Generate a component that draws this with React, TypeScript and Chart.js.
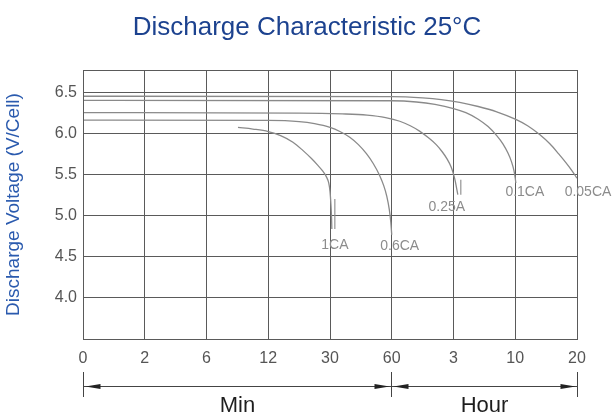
import React, { useEffect, useRef } from "react";
import { Chart, registerables } from "chart.js";

Chart.register(...registerables);

// ---------- data ----------
// x axis: equally spaced divisions labelled with discharge time
const xTickLabels = ["0", "2", "6", "12", "30", "60", "3", "10", "20"];
const yTickValues = [3.5, 4.0, 4.5, 5.0, 5.5, 6.0, 6.5];
const yMin = 3.5;
const yMax = 6.78;

const seriesNames = ["1CA", "0.6CA", "0.25A", "0.1CA", "0.05CA"];

// positions along the time axis (in axis divisions) and voltages (V/Cell)
const pos1CA = [2.51, 2.75, 3.0, 3.2, 3.4, 3.56, 3.7, 3.8, 3.88, 3.94, 3.98, 4.0, 4.015, 4.025, 4.03];
const volt1CA = [6.08, 6.06, 6.03, 5.98, 5.9, 5.8, 5.7, 5.62, 5.55, 5.48, 5.4, 5.3, 5.14, 4.98, 4.84];

const pos06CA = [0, 3.0, 3.5, 3.75, 4.0, 4.16, 4.32, 4.46, 4.59, 4.7, 4.8, 4.87, 4.92, 4.96, 4.985, 5.0];
const volt06CA = [6.17, 6.165, 6.15, 6.125, 6.08, 6.03, 5.96, 5.87, 5.76, 5.64, 5.5, 5.37, 5.24, 5.08, 4.92, 4.77];

const pos025A = [0, 3.5, 4.2, 4.6, 4.9, 5.13, 5.3, 5.45, 5.6, 5.72, 5.82, 5.9, 5.96, 6.0, 6.03, 6.05, 6.07];
const volt025A = [6.26, 6.255, 6.245, 6.23, 6.2, 6.155, 6.1, 6.035, 5.95, 5.87, 5.78, 5.69, 5.6, 5.51, 5.42, 5.34, 5.26];

const pos01CA = [0, 5.0, 5.4, 5.7, 6.0, 6.2, 6.4, 6.56, 6.7, 6.8, 6.88, 6.94, 6.98, 7.0, 7.01];
const volt01CA = [6.41, 6.405, 6.39, 6.36, 6.31, 6.26, 6.18, 6.09, 5.98, 5.88, 5.77, 5.66, 5.55, 5.46, 5.4];

const pos005CA = [0, 5.0, 5.5, 5.8, 6.1, 6.4, 6.7, 7.0, 7.2, 7.4, 7.56, 7.7, 7.82, 7.92, 8.0];
const volt005CA = [6.46, 6.455, 6.44, 6.42, 6.385, 6.335, 6.27, 6.18, 6.1, 5.99, 5.88, 5.76, 5.65, 5.55, 5.46];

const seriesPos = [pos1CA, pos06CA, pos025A, pos01CA, pos005CA];
const seriesVolt = [volt1CA, volt06CA, volt025A, volt01CA, volt005CA];

// time spans under the axis
const spanLabels = ["Min", "Hour"];
const spanStart = [0, 5];
const spanEnd = [5, 8];

// ---------- styles ----------
const FONT = "'Liberation Sans', Arial, sans-serif";
const curveColor = "#8a8a8a";
const gridColor = "#5a5a5a";
const labelOffsets: [number, number][] = [
  [3, 16],
  [8, 11],
  [-11, 12],
  [9, 9],
  [11, 14],
];
const leaderLengths = [30, 0, 15, 0, 0];

const overlayPlugin = {
  id: "overlay",
  afterDraw(chart: any) {
    const { ctx, chartArea: a, scales } = chart;
    const xs = scales.x;
    const ys = scales.y;
    const al = (p: number) => Math.round(p - 0.5) + 0.5;
    ctx.save();

    // plot frame
    ctx.strokeStyle = gridColor;
    ctx.lineWidth = 1;
    const L = al(a.left);
    const R = al(a.right);
    const T = al(a.top);
    const B = al(a.bottom);
    ctx.strokeRect(L, T, R - L, B - T);

    // curve labels + leaders
    ctx.font = `14px ${FONT}`;
    ctx.fillStyle = "#8c8c8c";
    ctx.textAlign = "center";
    ctx.textBaseline = "middle";
    seriesNames.forEach((name, i) => {
      const p = seriesPos[i];
      const v = seriesVolt[i];
      const ex = xs.getPixelForValue(p[p.length - 1]);
      const ey = ys.getPixelForValue(v[v.length - 1]);
      const len = leaderLengths[i];
      if (len > 0) {
        ctx.strokeStyle = curveColor;
        ctx.lineWidth = 1.1;
        ctx.beginPath();
        ctx.moveTo(ex + 3, ey - len);
        ctx.lineTo(ex + 3, ey);
        ctx.stroke();
      }
      const [dx, dy] = labelOffsets[i];
      ctx.fillText(name, ex + dx, ey + dy);
    });

    // Min / Hour arrows
    const yArrow = 386.5;
    const barTop = 372;
    const barBot = 397;
    ctx.strokeStyle = "#444";
    ctx.fillStyle = "#222";
    ctx.lineWidth = 1;
    const head = (tip: number, dir: number) => {
      ctx.beginPath();
      ctx.moveTo(tip, yArrow);
      ctx.lineTo(tip - dir * 15, yArrow - 2.5);
      ctx.lineTo(tip - dir * 15, yArrow + 2.5);
      ctx.closePath();
      ctx.fill();
    };
    spanLabels.forEach((lab, i) => {
      const x0 = al(xs.getPixelForValue(spanStart[i]));
      const x1 = al(xs.getPixelForValue(spanEnd[i]));
      ctx.beginPath();
      ctx.moveTo(x0, barTop);
      ctx.lineTo(x0, barBot);
      ctx.moveTo(x1, barTop);
      ctx.lineTo(x1, barBot);
      ctx.moveTo(x0, yArrow);
      ctx.lineTo(x1, yArrow);
      ctx.stroke();
      head(x0 + 2, -1);
      head(x1 - 2, 1);
      ctx.font = `22px ${FONT}`;
      ctx.fillStyle = "#1e1e1e";
      ctx.textAlign = "center";
      ctx.textBaseline = "alphabetic";
      ctx.fillText(lab, (x0 + x1) / 2, 412);
      ctx.fillStyle = "#222";
    });

    ctx.restore();
  },
};

export default function App() {
  const ref = useRef<HTMLCanvasElement>(null);

  useEffect(() => {
    if (!ref.current) return;
    Chart.defaults.font.family = FONT;
    const datasets = seriesNames.map((name, i) => ({
      label: name,
      data: seriesPos[i].map((p, j) => ({ x: p, y: seriesVolt[i][j] })),
      borderColor: curveColor,
      borderWidth: 1.3,
      pointRadius: 0,
      fill: false,
      cubicInterpolationMode: "monotone" as const,
    }));

    const chart = new Chart(ref.current, {
      type: "line",
      data: { datasets },
      options: {
        animation: false,
        responsive: true,
        maintainAspectRatio: false,
        layout: { padding: 0 },
        plugins: {
          legend: { display: false },
          tooltip: { enabled: false },
          title: {
            display: true,
            text: "Discharge Characteristic 25°C",
            color: "#1c428f",
            font: { family: FONT, size: 26, weight: "normal" },
            padding: { top: 12, bottom: 26.8 },
          },
        },
        scales: {
          x: {
            type: "linear",
            min: 0,
            max: xTickLabels.length - 1,
            afterFit: (s: any) => {
              s.height = 75;
            },
            ticks: {
              stepSize: 1,
              autoSkip: false,
              maxRotation: 0,
              padding: 10,
              color: "#555",
              font: { family: FONT, size: 16 },
              callback: (v: any) => xTickLabels[Math.round(Number(v))] ?? "",
            },
            grid: { color: gridColor, lineWidth: 1, drawTicks: false },
            border: { display: false },
          },
          y: {
            type: "linear",
            position: "left",
            min: yMin,
            max: yMax,
            afterBuildTicks: (s: any) => {
              s.ticks = yTickValues.map((v) => ({ value: v }));
            },
            afterFit: (s: any) => {
              s.width = 83;
            },
            ticks: {
              padding: 6,
              color: "#555",
              font: { family: FONT, size: 16 },
              callback: (v: any) => (Number(v) === yMin ? "" : Number(v).toFixed(1)),
            },
            grid: { color: gridColor, lineWidth: 1, drawTicks: false },
            border: { display: false },
            title: {
              display: true,
              text: "Discharge Voltage (V/Cell)",
              color: "#2a5aae",
              font: { family: FONT, size: 19 },
              padding: { top: 2, bottom: 0 },
            },
          },
          yR: {
            type: "linear",
            position: "right",
            display: true,
            afterFit: (s: any) => {
              s.width = 37;
            },
            ticks: { display: false },
            grid: { display: false },
            border: { display: false },
          },
        },
      },
      plugins: [overlayPlugin],
    });
    return () => chart.destroy();
  }, []);

  return (
    <div
      style={{
        position: "fixed",
        left: 0,
        top: 0,
        width: 614,
        height: 414,
        background: "#fff",
      }}
    >
      <canvas ref={ref} />
    </div>
  );
}
